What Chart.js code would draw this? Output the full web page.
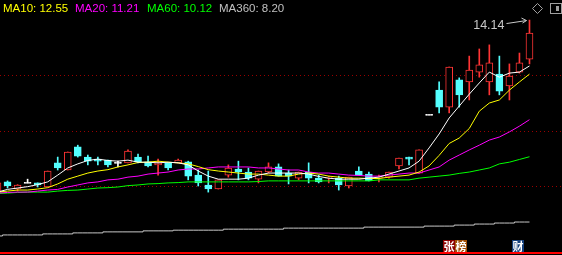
<!DOCTYPE html>
<html>
<head>
<meta charset="utf-8">
<script src="https://cdn.jsdelivr.net/npm/chart.js@4.4.1/dist/chart.umd.min.js"></script>
<style>
html, body { margin: 0; padding: 0; background: #000; overflow: hidden; }
canvas { display: block; }
</style>
</head>
<body>
<canvas id="kline" width="562" height="255"></canvas>
<script>
'use strict';

// K线 (open / high / low / close)
const opens  = [9.08, 9.38, 9.17, 9.35, 9.35, 9.23, 9.94, 9.73, 10.41, 10.11, 10.05, 10.02, 9.94, 9.94, 10.11, 9.97, 9.88, 9.94, 9.94, 9.97, 9.58, 9.29, 9.17, 9.58, 9.76, 9.67, 9.46, 9.67, 9.82, 9.64, 9.49, 9.67, 9.49, 9.49, 9.49, 9.26, 9.70, 9.61, 9.49, 9.52, 9.85, 10.11, 9.64, 11.35, 12.08, 11.58, 12.38, 12.32, 12.61, 12.32, 12.55, 12.20, 12.61, 12.99];
const highs  = [9.35, 9.41, 9.30, 9.46, 9.35, 9.70, 10.11, 10.26, 10.46, 10.17, 10.11, 10.02, 9.99, 10.32, 10.20, 10.14, 10.05, 9.94, 10.05, 9.99, 9.73, 9.70, 9.44, 9.88, 9.99, 9.79, 9.70, 9.94, 9.91, 9.73, 9.67, 9.94, 9.58, 9.55, 9.55, 9.52, 9.82, 9.67, 9.58, 9.67, 10.08, 10.11, 10.32, 11.35, 12.32, 12.76, 12.44, 13.08, 13.29, 13.41, 13.08, 12.85, 13.17, 14.14];
const lows   = [9.08, 9.20, 9.11, 9.35, 9.23, 9.23, 9.73, 9.73, 10.11, 9.88, 9.88, 9.82, 9.82, 9.94, 9.94, 9.82, 9.58, 9.73, 9.94, 9.44, 9.26, 9.08, 9.17, 9.52, 9.44, 9.44, 9.35, 9.64, 9.55, 9.32, 9.44, 9.35, 9.35, 9.35, 9.14, 9.20, 9.58, 9.41, 9.38, 9.49, 9.76, 9.88, 9.64, 11.35, 11.41, 11.41, 11.58, 11.79, 12.46, 11.94, 11.94, 11.79, 12.58, 12.85];
const closes = [9.35, 9.26, 9.29, 9.35, 9.29, 9.70, 9.79, 10.26, 10.14, 9.99, 9.99, 9.88, 9.94, 10.29, 9.97, 9.85, 9.94, 9.79, 10.02, 9.55, 9.35, 9.17, 9.44, 9.79, 9.67, 9.49, 9.70, 9.82, 9.55, 9.55, 9.67, 9.49, 9.38, 9.52, 9.29, 9.52, 9.58, 9.41, 9.52, 9.67, 10.08, 10.05, 10.32, 11.35, 11.58, 12.76, 11.94, 12.67, 12.82, 12.88, 12.05, 12.49, 12.88, 13.76];

// 均线
const ma5   = [9.08, 9.16, 9.20, 9.24, 9.30, 9.38, 9.58, 9.79, 9.91, 10.01, 10.05, 10.01, 9.99, 10.02, 9.96, 9.96, 9.94, 9.96, 9.94, 9.88, 9.70, 9.55, 9.46, 9.46, 9.46, 9.49, 9.58, 9.64, 9.64, 9.64, 9.64, 9.61, 9.54, 9.49, 9.46, 9.46, 9.46, 9.49, 9.52, 9.61, 9.70, 9.79, 9.99, 10.38, 10.79, 11.26, 11.61, 11.96, 12.29, 12.61, 12.46, 12.58, 12.61, 12.79];
const ma10  = [9.08, 9.11, 9.14, 9.14, 9.17, 9.21, 9.32, 9.46, 9.55, 9.64, 9.70, 9.74, 9.82, 9.88, 9.95, 9.96, 9.99, 9.96, 9.94, 9.91, 9.83, 9.74, 9.70, 9.67, 9.64, 9.61, 9.61, 9.58, 9.55, 9.55, 9.61, 9.64, 9.61, 9.55, 9.52, 9.49, 9.49, 9.48, 9.48, 9.52, 9.55, 9.58, 9.67, 9.85, 10.16, 10.51, 10.67, 10.95, 11.46, 11.70, 11.79, 12.08, 12.32, 12.55];
const ma20  = [9.05, 9.07, 9.08, 9.08, 9.11, 9.14, 9.16, 9.23, 9.29, 9.35, 9.38, 9.44, 9.46, 9.52, 9.55, 9.61, 9.64, 9.67, 9.73, 9.76, 9.76, 9.79, 9.82, 9.82, 9.82, 9.82, 9.79, 9.79, 9.76, 9.73, 9.73, 9.67, 9.64, 9.64, 9.61, 9.58, 9.57, 9.55, 9.55, 9.58, 9.61, 9.64, 9.64, 9.73, 9.82, 10.02, 10.17, 10.32, 10.46, 10.61, 10.70, 10.85, 11.02, 11.21];
const ma60  = [9.04, 9.05, 9.07, 9.08, 9.08, 9.08, 9.11, 9.13, 9.14, 9.17, 9.20, 9.21, 9.23, 9.27, 9.29, 9.32, 9.33, 9.35, 9.36, 9.38, 9.38, 9.38, 9.38, 9.38, 9.38, 9.38, 9.39, 9.41, 9.41, 9.41, 9.41, 9.41, 9.41, 9.41, 9.41, 9.41, 9.41, 9.41, 9.44, 9.44, 9.44, 9.44, 9.49, 9.52, 9.55, 9.58, 9.63, 9.67, 9.73, 9.79, 9.91, 9.96, 10.04, 10.12];
const ma360 = [7.79, 7.82, 7.82, 7.82, 7.82, 7.85, 7.85, 7.85, 7.88, 7.88, 7.88, 7.91, 7.91, 7.91, 7.91, 7.94, 7.94, 7.94, 7.96, 7.96, 7.96, 7.96, 7.96, 7.99, 7.99, 7.99, 7.99, 7.99, 7.99, 8.02, 8.02, 8.02, 8.02, 8.02, 8.02, 8.02, 8.02, 8.05, 8.05, 8.05, 8.05, 8.05, 8.05, 8.08, 8.08, 8.08, 8.11, 8.11, 8.14, 8.14, 8.17, 8.17, 8.20, 8.20];

// 虚线网格价位
const gridPrices = [9.26, 10.88, 12.52];

const UP = '#ff3434';
const DOWN = '#54ffff';
const FLAT = '#ffffff';

const idx = opens.map((_, i) => i);
const candleColor = idx.map(i => closes[i] > opens[i] ? UP : (closes[i] < opens[i] ? DOWN : FLAT));

const bodies = idx.map(i => {
    let lo = Math.min(opens[i], closes[i]);
    let hi = Math.max(opens[i], closes[i]);
    if (hi - lo < 0.03) {
        const m = (lo + hi) / 2;
        lo = m - 0.015;
        hi = m + 0.015;
    }
    return { x: i, y: [lo, hi] };
});
const wicks = idx.map(i => ({ x: i, y: [lows[i], highs[i]] }));
const line = arr => arr.map((v, i) => ({ x: i, y: v }));

const maLine = (label, data, color, extra) => Object.assign({
    type: 'line',
    label: label,
    data: line(data),
    borderColor: color,
    borderWidth: 1,
    pointRadius: 0,
    tension: 0,
    order: 0
}, extra || {});

const legend = [
    { text: 'MA10: ' + ma10[ma10.length - 1].toFixed(2), color: '#ffff00', x: 3 },
    { text: 'MA20: ' + ma20[ma20.length - 1].toFixed(2), color: '#ff00ff', x: 75 },
    { text: 'MA60: ' + ma60[ma60.length - 1].toFixed(2), color: '#00ff00', x: 147 },
    { text: 'MA360: ' + ma360[ma360.length - 1].toFixed(2), color: '#c0c0c0', x: 219 }
];

// 底部标签
const tags = [
    { t: '张', bg: '#8c0000', x: 443 },
    { t: '榜', bg: '#a05008', x: 455 },
    { t: '财', bg: '#15407c', x: 512 }
];

const deco = {
    id: 'deco',
    beforeDatasetsDraw(chart) {
        const { ctx, chartArea, scales: { y } } = chart;
        ctx.save();
        ctx.strokeStyle = '#9a0000';
        ctx.lineWidth = 1;
        ctx.setLineDash([1, 3]);
        gridPrices.forEach(p => {
            const py = Math.round(y.getPixelForValue(p)) + 0.5;
            ctx.beginPath();
            ctx.moveTo(chartArea.left, py);
            ctx.lineTo(chartArea.right, py);
            ctx.stroke();
        });
        ctx.restore();
    },
    afterDraw(chart) {
        const { ctx, scales: { x, y } } = chart;
        ctx.save();

        // 均线图例
        ctx.font = '11.5px "Liberation Sans", Arial, sans-serif';
        ctx.textBaseline = 'alphabetic';
        legend.forEach(l => {
            ctx.fillStyle = l.color;
            ctx.fillText(l.text, l.x, 12);
        });

        // 最高价标注
        let hi = 0;
        highs.forEach((h, i) => { if (h > highs[hi]) hi = i; });
        const hx = x.getPixelForValue(hi);
        const hy = y.getPixelForValue(highs[hi]);
        ctx.fillStyle = '#c8c8c8';
        ctx.strokeStyle = '#c8c8c8';
        ctx.font = '12.5px "Liberation Sans", Arial, sans-serif';
        ctx.textAlign = 'right';
        ctx.fillText(highs[hi].toFixed(2), hx - 25, hy + 9);
        ctx.lineWidth = 1;
        ctx.beginPath();
        ctx.moveTo(hx - 23, hy + 3.5);
        ctx.lineTo(hx - 3, hy + 0.5);
        ctx.moveTo(hx - 3, hy + 0.5);
        ctx.lineTo(hx - 8, hy - 2);
        ctx.moveTo(hx - 3, hy + 0.5);
        ctx.lineTo(hx - 7, hy + 3);
        ctx.stroke();

        // 右上角图标
        ctx.strokeStyle = '#a0a0a0';
        ctx.beginPath();
        ctx.moveTo(537.5, 3.5);
        ctx.lineTo(542.5, 8.5);
        ctx.lineTo(537.5, 13.5);
        ctx.lineTo(532.5, 8.5);
        ctx.closePath();
        ctx.stroke();
        ctx.strokeRect(550.5, 3.5, 11, 10);
        ctx.fillStyle = '#a0a0a0';
        ctx.fillRect(556, 6, 3, 5);

        // 底部红线
        ctx.fillStyle = '#ff0000';
        ctx.fillRect(0, 252, 562, 2);

        ctx.font = 'bold 11px "Noto Sans CJK SC", sans-serif';
        ctx.textAlign = 'center';
        ctx.textBaseline = 'middle';
        tags.forEach(g => {
            ctx.fillStyle = g.bg;
            ctx.fillRect(g.x, 240, 12, 12);
            ctx.fillStyle = '#ffffff';
            ctx.fillText(g.t, g.x + 6, 246.5);
        });
        ctx.restore();
    }
};

new Chart(document.getElementById('kline'), {
    data: {
        datasets: [
            maLine('MA5', ma5, '#ffffff'),
            maLine('MA10', ma10, '#ffff00'),
            maLine('MA20', ma20, '#ff00ff'),
            maLine('MA60', ma60, '#00ff00'),
            maLine('MA360', ma360, '#c8c8c8', { stepped: 'middle' }),
            {
                type: 'bar',
                label: 'body',
                data: bodies,
                backgroundColor: idx.map(i => candleColor[i] === UP ? '#000000' : candleColor[i]),
                borderColor: candleColor,
                borderWidth: 1,
                borderSkipped: false,
                barThickness: 7,
                grouped: false,
                order: 1
            },
            {
                type: 'bar',
                label: 'wick',
                data: wicks,
                backgroundColor: candleColor,
                borderWidth: 0,
                barThickness: 1,
                grouped: false,
                order: 2
            }
        ]
    },
    options: {
        responsive: false,
        animation: false,
        devicePixelRatio: 1,
        layout: { padding: 0 },
        plugins: { legend: { display: false }, tooltip: { enabled: false } },
        scales: {
            x: { type: 'linear', min: 0.25, max: 56.24, offset: false, display: false },
            y: { min: 7.23, max: 14.73, display: false }
        }
    },
    plugins: [deco]
});
</script>
</body>
</html>
